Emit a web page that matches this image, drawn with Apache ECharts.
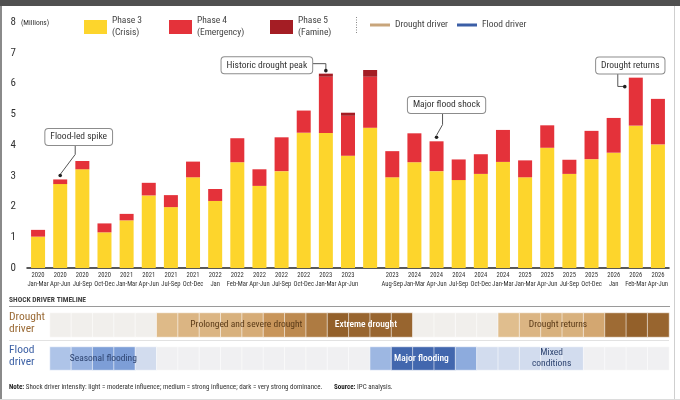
<!DOCTYPE html>
<html>
<head>
<meta charset="utf-8">
<script src="https://cdn.jsdelivr.net/npm/echarts@6/dist/echarts.min.js"></script>
<style>
  html, body { margin: 0; padding: 0; background: #fff; }
  #main { width: 680px; height: 400px; }
</style>
</head>
<body>
<div id="main"></div>
<script>
var FONT = '"Roboto Condensed", Roboto, sans-serif';

// quarters (one bar each); the 16th bar has no label in the source
var categories = [
  '2020\nJan-Mar', '2020\nApr-Jun', '2020\nJul-Sep', '2020\nOct-Dec',
  '2021\nJan-Mar', '2021\nApr-Jun', '2021\nJul-Sep', '2021\nOct-Dec',
  '2022\nJan', '2022\nFeb-Mar', '2022\nApr-Jun', '2022\nJul-Sep', '2022\nOct-Dec',
  '2023\nJan-Mar', '2023\nApr-Jun', '', '2023\nAug-Sep',
  '2024\nJan-Mar', '2024\nApr-Jun', '2024\nJul-Sep', '2024\nOct-Dec', '2024\nJan-Mar',
  '2025\nJan-Mar', '2025\nApr-Jun', '2025\nJul-Sep', '2025\nOct-Dec',
  '2026\nJan', '2026\nFeb-Mar', '2026\nApr-Jun'
];

// millions of people
var phase3 = [1.02, 2.73, 3.21, 1.16, 1.55, 2.36, 1.98, 2.95, 2.18, 3.44, 2.67, 3.15, 4.40,
              4.39, 3.65, 4.56, 2.95, 3.44, 3.15, 2.86, 3.06, 3.45, 2.95, 3.91, 3.06, 3.54,
              3.75, 4.63, 4.02];
var phase4 = [0.22, 0.15, 0.27, 0.29, 0.21, 0.41, 0.39, 0.51, 0.39, 0.78, 0.54, 1.10, 0.72,
              1.83, 1.30, 1.66, 0.85, 0.94, 0.97, 0.67, 0.64, 1.04, 0.55, 0.73, 0.46, 0.92,
              1.13, 1.56, 1.48];
var phase5 = [0, 0, 0, 0, 0, 0, 0, 0, 0, 0, 0, 0, 0,
              0.10, 0.10, 0.22, 0, 0, 0, 0, 0, 0, 0, 0, 0, 0,
              0, 0, 0];

var seriesNames = ['Phase 3\n(Crisis)', 'Phase 4\n(Emergency)', 'Phase 5\n(Famine)'];
var driverNames = ['Drought driver', 'Flood driver'];

// shock driver intensity per timeline cell: 0 none, 1 light, 2 medium, 3 dark
var droughtIntensity = [0, 0, 0, 0, 0, 1.2, 1.3, 1.3, 1.4, 1.5, 2.0, 2.2, 2.5, 3.0, 2.9, 2.9, 2.9,
                        0, 0, 0, 0, 1.1, 1.3, 1.4, 1.4, 1.6, 2.8, 3.0, 2.9];
var floodIntensity = [1.1, 1.5, 2.0, 2.0, 0.5, 0, 0, 0, 0, 0, 0, 0, 0, 0, 0, 1.4, 3, 3, 3, 1.7,
                      0.5, 0.5, 0.5, 0.5, 0.5, 0, 0, 0, 0];

var callouts = [
  { bar: 1, text: 'Flood-led spike' },
  { bar: 13, text: 'Historic drought peak' },
  { bar: 18, text: 'Major flood shock' },
  { bar: 27, text: 'Drought returns' }
];

var bands = [
  { row: 'drought', at: 8.7, text: 'Prolonged and severe drought', dark: false },
  { row: 'drought', at: 14.3, text: 'Extreme drought', dark: true },
  { row: 'drought', at: 23.3, text: 'Drought returns', dark: false },
  { row: 'flood', at: 2.0, text: 'Seasonal flooding', dark: false },
  { row: 'flood', at: 16.9, text: 'Major flooding', dark: true },
  { row: 'flood', at: 23.0, text: 'Mixed\nconditions', dark: false }
];

var totals = phase3.map(function (v, i) { return v + phase4[i] + phase5[i]; });

var chart = echarts.init(document.getElementById('main'));

function legendFor(name, left, top, w, h) {
  return {
    data: [name], left: left, top: top, icon: 'rect',
    itemWidth: w, itemHeight: h, selectedMode: false, padding: 0,
    textStyle: { fontFamily: FONT, fontSize: 9.5, lineHeight: 12, color: '#444' }
  };
}

var option = {
  animation: false,
  textStyle: { fontFamily: FONT },
  legend: [
    legendFor(seriesNames[0], 84, 15, 23, 14),
    legendFor(seriesNames[1], 169, 15, 23, 14),
    legendFor(seriesNames[2], 270, 15, 23, 14),
    legendFor(driverNames[0], 370, 19, 20, 3),
    legendFor(driverNames[1], 457, 19, 20, 3)
  ],
  grid: [
    { left: 27, right: 11, top: 22, bottom: 132 },
    { left: 50, right: 11, top: 313, height: 24 },
    { left: 50, right: 11, top: 347, height: 23 }
  ],
  xAxis: [
    {
      type: 'category', data: categories, gridIndex: 0,
      axisLine: { lineStyle: { color: '#222', width: 1.5 } },
      axisTick: { show: false },
      axisLabel: { interval: 0, fontSize: 6.6, lineHeight: 9, margin: 3, color: '#333', fontFamily: FONT }
    },
    { type: 'category', data: categories, gridIndex: 1, show: false },
    { type: 'category', data: categories, gridIndex: 2, show: false }
  ],
  yAxis: [
    {
      type: 'value', gridIndex: 0, min: 0, max: 8, interval: 1,
      axisLine: { show: false }, axisTick: { show: false }, splitLine: { show: false },
      axisLabel: { fontSize: 11, color: '#333', margin: 11, fontFamily: FONT }
    },
    { type: 'category', data: ['drought'], gridIndex: 1, show: false },
    { type: 'category', data: ['flood'], gridIndex: 2, show: false }
  ],
  visualMap: [
    { type: 'continuous', show: false, seriesIndex: 5, dimension: 2, min: 0, max: 3,
      inRange: { color: ['#F1EFEC', '#E3C394', '#C8955A', '#93602A'] } },
    { type: 'continuous', show: false, seriesIndex: 6, dimension: 2, min: 0, max: 3,
      inRange: { color: ['#F0F0F2', '#B3C8EA', '#7D9ED7', '#4267AE'] } }
  ],
  series: [
    { name: seriesNames[0], type: 'bar', stack: 'ipc', barWidth: 14, data: phase3,
      itemStyle: { color: '#FDD52C' }, silent: true },
    { name: seriesNames[1], type: 'bar', stack: 'ipc', barWidth: 14, data: phase4,
      itemStyle: { color: '#E4323A' }, silent: true },
    { name: seriesNames[2], type: 'bar', stack: 'ipc', barWidth: 14, data: phase5,
      itemStyle: { color: '#A41D24' }, silent: true },
    { name: driverNames[0], type: 'line', data: [],
      itemStyle: { color: '#C8A57B' }, lineStyle: { color: '#C8A57B' } },
    { name: driverNames[1], type: 'line', data: [],
      itemStyle: { color: '#3B5EA6' }, lineStyle: { color: '#3B5EA6' } },
    { type: 'heatmap', xAxisIndex: 1, yAxisIndex: 1, silent: true,
      data: droughtIntensity.map(function (v, i) { return [i, 0, v]; }),
      itemStyle: { borderColor: 'rgba(255,255,255,0.55)', borderWidth: 1 } },
    { type: 'heatmap', xAxisIndex: 2, yAxisIndex: 2, silent: true,
      data: floodIntensity.map(function (v, i) { return [i, 0, v]; }),
      itemStyle: { borderColor: 'rgba(255,255,255,0.55)', borderWidth: 1 } }
  ]
};

chart.setOption(option);

// ---- overlay: frame, callouts, timeline texts ----
var g = [];

g.push({ type: 'rect', shape: { x: 0, y: 0, width: 680, height: 6 }, style: { fill: '#505050' }, z: 20 });
g.push({ type: 'rect', shape: { x: 0, y: 6, width: 2, height: 394 }, style: { fill: '#8a8a8a' }, z: 20 });
g.push({ type: 'rect', shape: { x: 674, y: 6, width: 1, height: 394 }, style: { fill: '#cfcfcf' }, z: 20 });
g.push({ type: 'rect', shape: { x: 0, y: 399, width: 680, height: 1 }, style: { fill: '#dcdcdc' }, z: 20 });

g.push({ type: 'text', x: 21, y: 23, style: { text: '(Millions)', font: '7.5px ' + FONT, fill: '#333', verticalAlign: 'middle' } });
g.push({ type: 'line', shape: { x1: 356.5, y1: 17, x2: 356.5, y2: 33 },
         style: { stroke: '#888', lineWidth: 1, lineDash: [1, 1.5] } });

// callout placement relative to the top of the bar it points at
var calloutLayout = [
  { box: [18.5, -42.5], path: [[15, -34], [15, -25], [0, -5]], dot: [0, -4] },
  { box: [-59, -8.3], path: [[-22, -10], [0, -10], [0, -3]], dot: [0, -3] },
  { box: [10, -36.2], path: [[6, -28.5], [6, -16.7], [0, -6]], dot: [0, -4] },
  { box: [-5.5, -12.2], path: [[-18, -4.7], [-18, 8.8], [-11, 8.8]], dot: [-11, 9] }
];

callouts.forEach(function (c, k) {
  var p = chart.convertToPixel({ xAxisIndex: 0, yAxisIndex: 0 }, [c.bar, totals[c.bar]]);
  var L = calloutLayout[k];
  g.push({ type: 'polyline', z: 30,
    shape: { points: L.path.map(function (d) { return [p[0] + d[0], p[1] + d[1]]; }) },
    style: { stroke: '#555', lineWidth: 1, fill: null } });
  g.push({ type: 'circle', z: 31, shape: { cx: p[0] + L.dot[0], cy: p[1] + L.dot[1], r: 1.8 },
    style: { fill: '#222' } });
  g.push({ type: 'text', z: 32, x: p[0] + L.box[0], y: p[1] + L.box[1],
    style: { text: c.text, font: '9.5px ' + FONT, fill: '#333', align: 'center', verticalAlign: 'middle',
      backgroundColor: '#fff', borderColor: '#8c8c8c', borderWidth: 1, borderRadius: 3, padding: [3, 5] } });
});

// timeline header and row labels
g.push({ type: 'text', x: 9, y: 300, style: { text: 'SHOCK DRIVER TIMELINE', font: 'bold 7.5px ' + FONT, fill: '#444', verticalAlign: 'middle' } });
g.push({ type: 'rect', shape: { x: 9, y: 306, width: 661, height: 1 }, style: { fill: '#9a9a9a' } });
g.push({ type: 'rect', shape: { x: 9, y: 340, width: 660, height: 1 }, style: { fill: '#e2e2e2' } });
g.push({ type: 'text', x: 9, y: 323, style: { text: 'Drought\ndriver', font: '11.5px ' + FONT, lineHeight: 11.5, fill: '#9A6A35', verticalAlign: 'middle' } });
g.push({ type: 'text', x: 9, y: 356, style: { text: 'Flood\ndriver', font: '11.5px ' + FONT, lineHeight: 11.5, fill: '#3D61A5', verticalAlign: 'middle' } });

var c0 = chart.convertToPixel({ xAxisIndex: 1 }, 0);
var c1 = chart.convertToPixel({ xAxisIndex: 1 }, 1);
bands.forEach(function (b) {
  var x = c0 + b.at * (c1 - c0);
  var y = b.row === 'drought' ? 325 : 358.5;
  g.push({ type: 'text', z: 10, x: x, y: y,
    style: { text: b.text, font: (b.dark ? '500 ' : '') + '9.5px ' + FONT, lineHeight: 11,
      fill: b.dark ? '#fff' : (b.row === 'drought' ? '#5A3A17' : '#2E4470'),
      align: 'center', verticalAlign: 'middle' } });
});

g.push({ type: 'text', x: 9, y: 387, style: {
  text: '{b|Note:} Shock driver intensity: light = moderate influence; medium = strong influence; dark = very strong dominance.',
  font: '7px ' + FONT, fill: '#333', verticalAlign: 'middle',
  rich: { b: { fontWeight: 'bold', fontSize: 7, fontFamily: FONT, fill: '#222' } } } });
g.push({ type: 'text', x: 334, y: 387, style: {
  text: '{b|Source:} IPC analysis.',
  font: '7px ' + FONT, fill: '#333', verticalAlign: 'middle',
  rich: { b: { fontWeight: 'bold', fontSize: 7, fontFamily: FONT, fill: '#222' } } } });

chart.setOption({ graphic: { elements: g } });
</script>
</body>
</html>
